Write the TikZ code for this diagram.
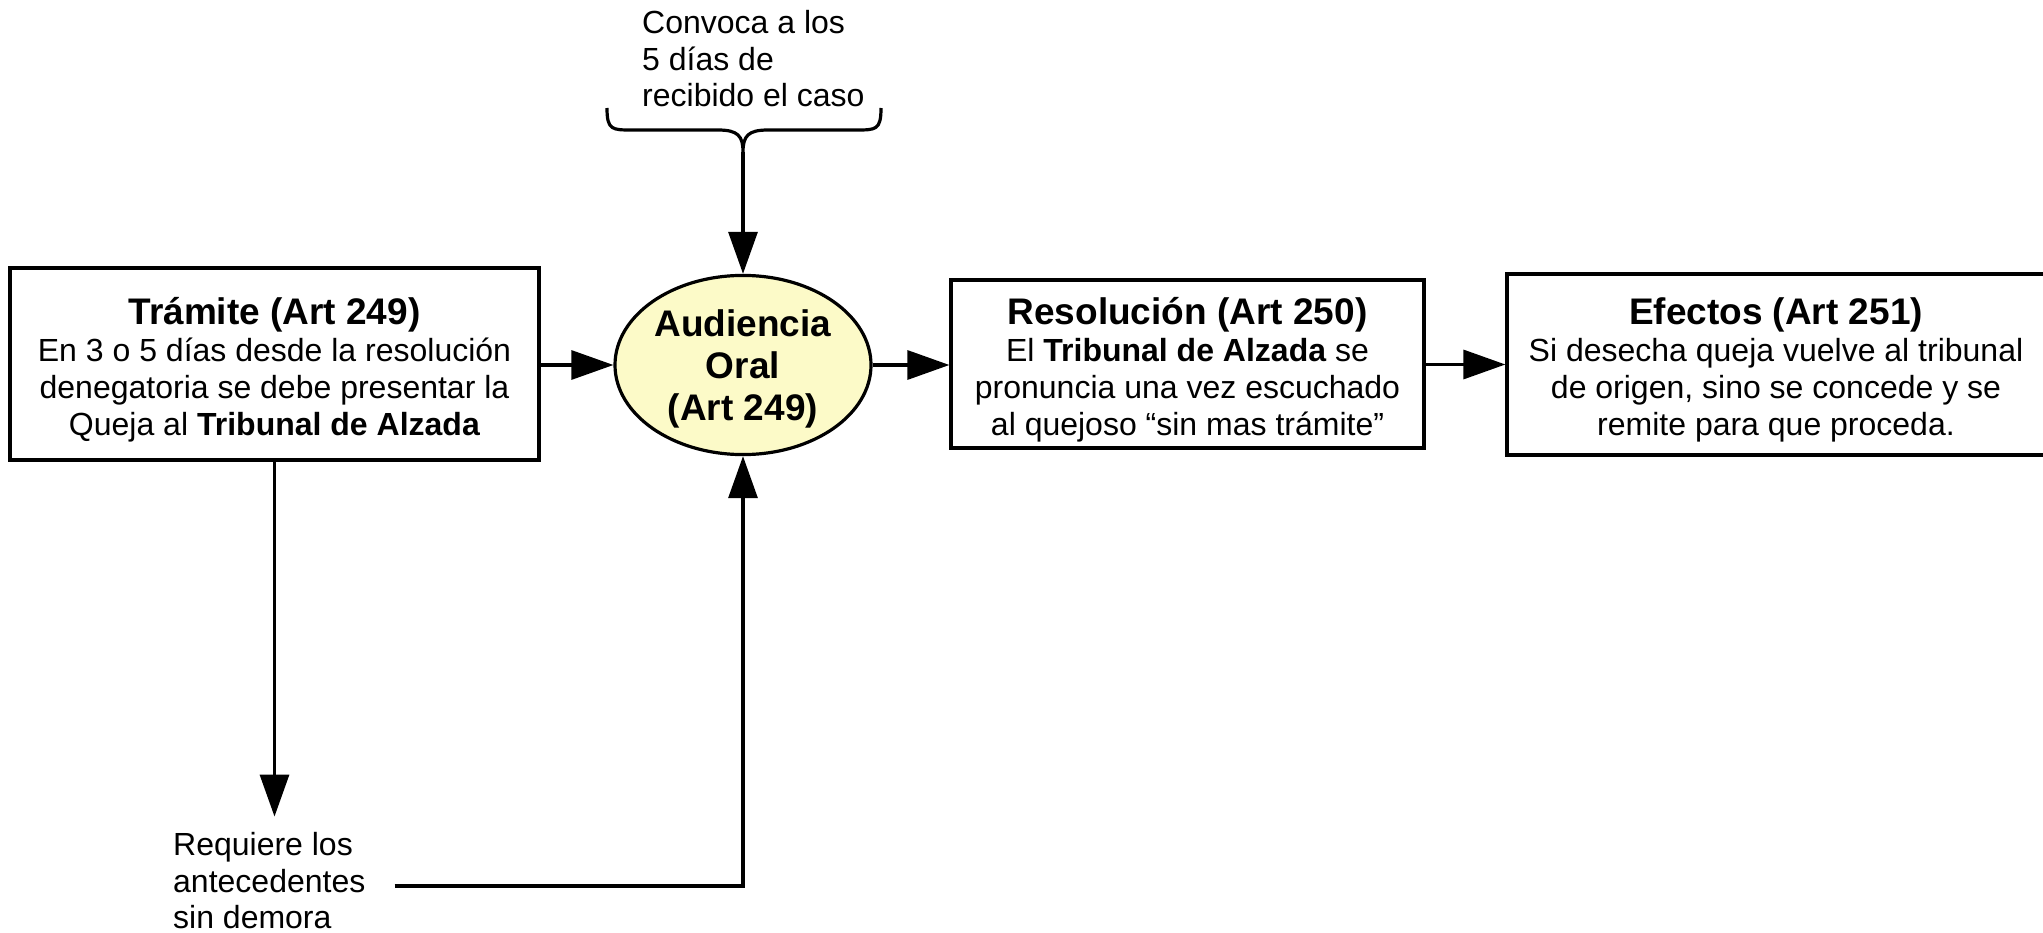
\documentclass[tikz,border=0pt]{standalone}
\usepackage{fontspec}
\setmainfont{Liberation Sans}
\usetikzlibrary{arrows.meta,shapes.geometric}
\definecolor{audfill}{RGB}{252,250,200}
\tikzset{
  box/.style={draw, line width=3.2pt, align=center, inner sep=0pt,
    font=\fontsize{32}{37}\selectfont},
  arr/.style={line width=3.2pt, -{Triangle[length=42pt,width=29pt]}},
  plain/.style={line width=3.2pt},
  lbl/.style={align=left, inner sep=0pt, font=\fontsize{32}{36.5}\selectfont},
}
\newcommand{\ttl}[1]{{\fontsize{37}{38}\selectfont\bfseries\rule{0pt}{38pt}#1}}
\begin{document}
\begin{tikzpicture}[x=1pt,y=-1pt]
\useasboundingbox (0,0) rectangle (2043,933);
\node[box, minimum width=529pt, minimum height=192pt] (tram) at (274.5,364)
  {\ttl{Trámite (Art 249)}\\En 3 o 5 días desde la resolución\\denegatoria se debe presentar la\\Queja al \textbf{Tribunal de Alzada}};
\node[draw, ellipse, line width=3.2pt, fill=audfill, minimum width=256pt, minimum height=178pt,
  inner sep=0pt, align=center, font=\fontsize{37}{42}\selectfont\bfseries] (aud) at (743,365)
  {\rule{0pt}{35pt}Audiencia\\Oral\\(Art 249)};
\node[box, minimum width=473pt, minimum height=168pt] (res) at (1187.5,364)
  {\ttl{Resolución (Art 250)}\\El \textbf{Tribunal de Alzada} se\\pronuncia una vez escuchado\\al quejoso “sin mas trámite”};
\node[box, minimum width=538pt, minimum height=181pt] (efe) at (1776,364.5)
  {\ttl{Efectos (Art 251)}\\Si desecha queja vuelve al tribunal\\de origen, sino se concede y se\\remite para que proceda.};
\node[lbl, anchor=west] (conv) at (642,59) {Convoca a los\\5 días de\\recibido el caso};
\node[lbl, anchor=west] (req) at (173,881) {Requiere los\\antecedentes\\sin demora};
% brace
\coordinate (tip) at (743,152);
\draw[plain, line join=round] (607,108) .. controls (607,130) and (612,130) .. (632,130)
  -- (718,130) .. controls (738,130) and (743,136) .. (tip)
  .. controls (743,136) and (748,130) .. (768,130) -- (856,130)
  .. controls (876,130) and (881,130) .. (881,108);
\draw[arr] (tip) -- (aud.north);
\draw[arr] (tram.east |- aud.west) -- (aud.west);
\draw[arr] (aud.east) -- (res.west |- aud.east);
\draw[arr] (res.east |- efe.west) -- (efe.west);
\draw[arr] (tram.south) -- ([yshift=16pt]tram.south |- req.north);
\coordinate (reqend) at ([xshift=29pt,yshift=-5pt]req.east);
\draw[arr] (reqend) -| (aud.south);
\end{tikzpicture}
\end{document}
